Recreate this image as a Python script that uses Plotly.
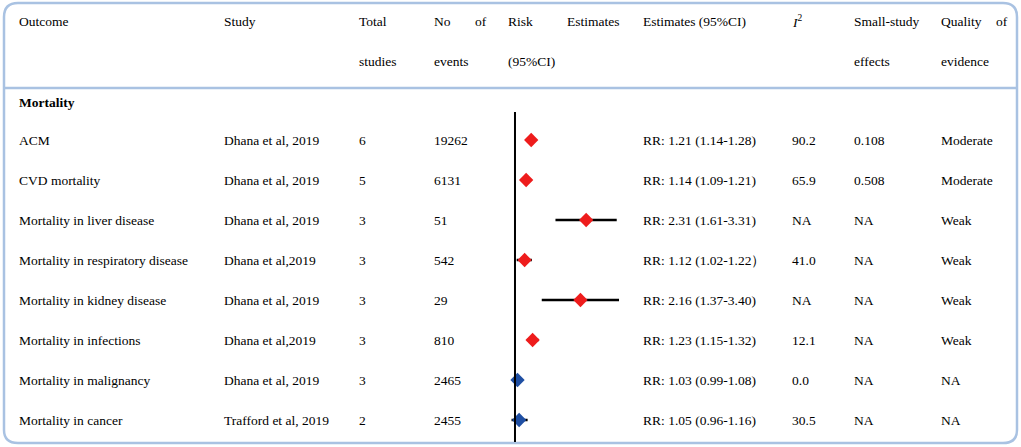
import plotly.graph_objects as go

# table content
outcomes = ["ACM", "CVD mortality", "Mortality in liver disease",
            "Mortality in respiratory disease", "Mortality in kidney disease",
            "Mortality in infections", "Mortality in malignancy", "Mortality in cancer"]
studies = ["Dhana et al, 2019", "Dhana et al, 2019", "Dhana et al, 2019",
           "Dhana et al,2019", "Dhana et al, 2019", "Dhana et al,2019",
           "Dhana et al, 2019", "Trafford et al, 2019"]
total_studies = ["6", "5", "3", "3", "3", "3", "3", "2"]
n_events = ["19262", "6131", "51", "542", "29", "810", "2465", "2455"]
rr = [1.21, 1.14, 2.31, 1.12, 2.16, 1.23, 1.03, 1.05]
ci_low = [1.14, 1.09, 1.61, 1.02, 1.37, 1.15, 0.99, 0.96]
ci_high = [1.28, 1.21, 3.31, 1.22, 3.40, 1.32, 1.08, 1.16]
est_text = ["RR: 1.21 (1.14-1.28)", "RR: 1.14 (1.09-1.21)", "RR: 2.31 (1.61-3.31)",
            "RR: 1.12 (1.02-1.22）", "RR: 2.16 (1.37-3.40)", "RR: 1.23 (1.15-1.32)",
            "RR: 1.03 (0.99-1.08)", "RR: 1.05 (0.96-1.16)"]
i2 = ["90.2", "65.9", "NA", "41.0", "NA", "12.1", "0.0", "30.5"]
small_study = ["0.108", "0.508", "NA", "NA", "NA", "NA", "NA", "NA"]
quality = ["Moderate", "Moderate", "Weak", "Weak", "Weak", "Weak", "NA", "NA"]
significant = [True, True, True, True, True, True, False, False]

W, H = 1021, 447
FONT = "Liberation Serif, Times New Roman, serif"
RED = "#ee1c1c"
BLUE = "#1f4fa3"
BORDER = "#a9c2e2"

rows = list(range(len(outcomes)))

fig = go.Figure()

# confidence intervals
for i in rows:
    fig.add_trace(go.Scatter(x=[ci_low[i], ci_high[i]], y=[i, i], mode="lines",
                             line=dict(color="black", width=2.5),
                             hoverinfo="skip", showlegend=False))

fig.add_trace(go.Scatter(
    x=rr, y=rows, mode="markers",
    marker=dict(symbol="diamond", size=11,
                color=[RED if s else BLUE for s in significant],
                line=dict(width=0)),
    showlegend=False))

ann = []

def txt(x, y, s, yref="y", bold=False):
    ann.append(dict(x=x / W, y=y, xref="paper", yref=yref, text=("<b>%s</b>" % s) if bold else s,
                    showarrow=False, xanchor="left", yanchor="middle",
                    font=dict(family=FONT, size=13.5, color="black")))

# header (paper y)
def hy(px):
    return 1 - px / H

txt(17, hy(22), "Outcome", "paper")
txt(222, hy(22), "Study", "paper")
txt(357, hy(22), "Total", "paper")
txt(357, hy(62), "studies", "paper")
txt(432, hy(22), "No", "paper")
txt(473, hy(22), "of", "paper")
txt(432, hy(62), "events", "paper")
txt(506, hy(22), "Risk", "paper")
txt(565, hy(22), "Estimates", "paper")
txt(506, hy(62), "(95%CI)", "paper")
txt(641, hy(22), "Estimates (95%CI)", "paper")
txt(790, hy(22), "<i>I</i><sup>2</sup>", "paper")
txt(852, hy(22), "Small-study", "paper")
txt(852, hy(62), "effects", "paper")
txt(939, hy(22), "Quality", "paper")
txt(994, hy(22), "of", "paper")
txt(939, hy(62), "evidence", "paper")
txt(17, hy(102), "Mortality", "paper", bold=True)

for i in rows:
    txt(17, i, outcomes[i])
    txt(222, i, studies[i])
    txt(357, i, total_studies[i])
    txt(432, i, n_events[i])
    txt(641, i, est_text[i])
    txt(790, i, i2[i])
    txt(852, i, small_study[i])
    txt(939, i, quality[i])

shapes = [
    # rounded border
    dict(type="path", xref="paper", yref="paper", layer="below",
         path="M %f %f L %f %f Q %f %f %f %f L %f %f Q %f %f %f %f L %f %f Q %f %f %f %f L %f %f Q %f %f %f %f Z" % (
             18 / W, 1 - 3 / H, 1003 / W, 1 - 3 / H, 1017 / W, 1 - 3 / H, 1017 / W, 1 - 17 / H,
             1017 / W, 1 - 430 / H, 1017 / W, 1 - 443 / H, 1003 / W, 1 - 443 / H,
             18 / W, 1 - 443 / H, 4 / W, 1 - 443 / H, 4 / W, 1 - 430 / H,
             4 / W, 1 - 17 / H, 4 / W, 1 - 3 / H, 18 / W, 1 - 3 / H),
         line=dict(color=BORDER, width=2.5)),
    # header separator
    dict(type="line", xref="paper", yref="paper", x0=4 / W, x1=1017 / W,
         y0=1 - 88 / H, y1=1 - 88 / H, line=dict(color=BORDER, width=2.5)),
    # null line
    dict(type="line", xref="x", yref="y", x0=1, x1=1, y0=-0.7, y1=7.55,
         line=dict(color="black", width=2)),
]

fig.update_layout(
    width=W, height=H, margin=dict(l=0, r=0, t=0, b=0),
    paper_bgcolor="white", plot_bgcolor="rgba(0,0,0,0)",
    annotations=ann, shapes=shapes,
    xaxis=dict(type="log", domain=[490 / W, 640 / W], range=[-0.1277, 0.6387],
               visible=False, fixedrange=True),
    yaxis=dict(domain=[0, 1], range=[(H - 140) / 40, -140 / 40],
               visible=False, fixedrange=True),
)

fig.write_html("out.html", config={"displayModeBar": False},
               post_script="document.body.style.margin='0';document.body.style.overflow='hidden';")
